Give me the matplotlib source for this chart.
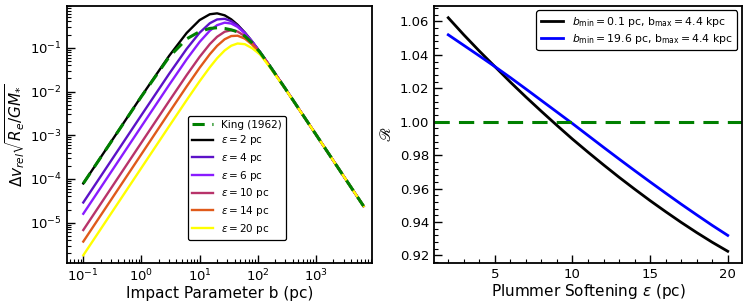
import numpy as np
import matplotlib
matplotlib.use('Agg')
import matplotlib.pyplot as plt
from matplotlib.ticker import AutoMinorLocator, LogLocator, NullFormatter

# impact parameter grid (pc)
b_pc = [0.1, 1, 3, 6, 10, 15, 20, 27, 35, 45, 60, 80, 110, 160, 300, 1000, 3000, 6600]

king_1962 = [7.9e-5, 7.7e-3, 0.062, 0.16, 0.235, 0.278, 0.287, 0.277, 0.258, 0.232,
             0.185, 0.13, 0.078, 0.039, 0.0115, 1.045e-3, 1.16e-4, 2.4e-5]
eps_2 = [7.9e-5, 7.81e-3, 0.0657, 0.219, 0.431, 0.585, 0.614, 0.553, 0.448, 0.336,
         0.2226, 0.139, 0.0788, 0.039, 0.01145, 1.045e-3, 1.16e-4, 2.4e-5]
eps_4 = [2.9e-5, 2.89e-3, 0.0255, 0.0948, 0.2214, 0.365, 0.4453, 0.4604, 0.4077, 0.3228,
         0.2215, 0.1401, 0.0797, 0.0393, 0.01148, 1.045e-3, 1.16e-4, 2.4e-5]
eps_6 = [1.6e-5, 1.6e-3, 0.01423, 0.0547, 0.136, 0.2465, 0.3293, 0.3759, 0.359, 0.3004,
         0.2142, 0.1384, 0.0795, 0.0394, 0.0115, 1.045e-3, 1.16e-4, 2.4e-5]
eps_10 = [6.8e-6, 6.8e-4, 6.08e-3, 0.02377, 0.0619, 0.1217, 0.1788, 0.2331, 0.2523, 0.2356,
          0.1854, 0.1276, 0.0763, 0.0387, 0.0114, 1.045e-3, 1.16e-4, 2.4e-5]
eps_14 = [3.7e-6, 3.7e-4, 3.32e-3, 0.01308, 0.0348, 0.0714, 0.1108, 0.1569, 0.1857, 0.1893,
          0.1622, 0.1185, 0.0745, 0.0382, 0.0114, 1.045e-3, 1.16e-4, 2.4e-5]
eps_20 = [1.8e-6, 1.8e-4, 1.615e-3, 6.38e-3, 0.01715, 0.0359, 0.0577, 0.087, 0.1116, 0.1255,
          0.121, 0.098, 0.07, 0.0365, 0.0113, 1.045e-3, 1.16e-4, 2.4e-5]

eps_curves = [eps_2, eps_4, eps_6, eps_10, eps_14, eps_20]
eps_labels = [r'$\epsilon = 2$ pc', r'$\epsilon = 4$ pc', r'$\epsilon = 6$ pc',
              r'$\epsilon = 10$ pc', r'$\epsilon = 14$ pc', r'$\epsilon = 20$ pc']
eps_colors = ['black', '#5c12c8', '#8a1cff', '#b8336a', '#e05a1a', '#ffff00']

# right panel: ratio vs plummer softening
softening = [2, 3, 4, 5, 6, 7, 8, 9, 10, 11, 12, 13, 14, 15, 16, 17, 18, 19, 20]
ratio_bmin_01 = [1.0622, 1.0520, 1.0423, 1.0330, 1.0237, 1.0148, 1.0062, 0.9978, 0.9896, 0.9818,
                 0.9742, 0.9668, 0.9597, 0.9528, 0.9462, 0.9398, 0.9337, 0.9279, 0.9225]
ratio_bmin_196 = [1.0520, 1.0457, 1.0394, 1.0330, 1.0264, 1.0196, 1.0127, 1.0058, 0.9989, 0.9918,
                  0.9847, 0.9777, 0.9708, 0.9640, 0.9573, 0.9507, 0.9443, 0.9380, 0.9320]

fig = plt.figure(figsize=(7.48, 3.04), dpi=100)
ax1 = fig.add_axes([0.0896, 0.135, 0.408, 0.845])
ax2 = fig.add_axes([0.5806, 0.135, 0.411, 0.845])

# left panel
ax1.plot(b_pc, king_1962, color='green', ls=(0, (4, 2.5)), lw=2.2, label='King (1962)', zorder=3)
for vals, lab, col in zip(eps_curves, eps_labels, eps_colors):
    ax1.plot(b_pc, vals, color=col, lw=1.7, label=lab)
ax1.set_xscale('log')
ax1.set_yscale('log')
ax1.set_xlim(0.0525, 9300)
ax1.set_ylim(1.2e-6, 0.9)
ax1.xaxis.set_major_locator(LogLocator(base=10, numticks=12))
ax1.xaxis.set_minor_locator(LogLocator(base=10, subs=np.arange(2, 10), numticks=12))
ax1.xaxis.set_minor_formatter(NullFormatter())
ax1.yaxis.set_major_locator(LogLocator(base=10, numticks=12))
ax1.yaxis.set_minor_locator(LogLocator(base=10, subs=np.arange(2, 10), numticks=12))
ax1.yaxis.set_minor_formatter(NullFormatter())
ax1.set_xlabel('Impact Parameter b (pc)', fontsize=11, labelpad=1)
ax1.set_ylabel(r'$\Delta v_{rel}\sqrt{R_e/GM_{*}}$', fontsize=11, labelpad=2)
leg1 = ax1.legend(loc='lower right', bbox_to_anchor=(0.735, 0.07), fontsize=7.5,
                  framealpha=1, edgecolor='black', handlelength=2.0, labelspacing=0.35)
leg1.get_frame().set_linewidth(0.9)

# right panel
ax2.plot(softening, ratio_bmin_01, color='black', lw=2,
         label=r'$b_{\rm min} = 0.1$ pc, b$_{\rm max} = 4.4$ kpc')
ax2.plot(softening, ratio_bmin_196, color='blue', lw=2,
         label=r'$b_{\rm min} = 19.6$ pc, b$_{\rm max} = 4.4$ kpc')
ax2.axhline(1.0, color='green', ls=(0, (5, 3)), lw=2.2)
ax2.set_xticks([5, 10, 15, 20])
ax2.set_yticks([0.92, 0.94, 0.96, 0.98, 1.00, 1.02, 1.04, 1.06])
ax2.xaxis.set_minor_locator(AutoMinorLocator(5))
ax2.yaxis.set_minor_locator(AutoMinorLocator(5))
ax2.set_xlabel(r'Plummer Softening $\epsilon$ (pc)', fontsize=11, labelpad=1)
ax2.set_ylabel(r'$\mathscr{R}$', fontsize=11, math_fontfamily='stix')
leg2 = ax2.legend(loc='upper right', fontsize=7.8, framealpha=1, edgecolor='black',
                  handlelength=2.1, borderaxespad=0.4, labelspacing=0.3)
leg2.get_frame().set_linewidth(0.9)

for ax in (ax1, ax2):
    for sp in ax.spines.values():
        sp.set_linewidth(1.3)
    ax.tick_params(which='major', direction='in', length=6, width=1, labelsize=9.5)
    ax.tick_params(which='minor', direction='in', length=3, width=0.8)

plt.savefig('out.png', dpi=100)
